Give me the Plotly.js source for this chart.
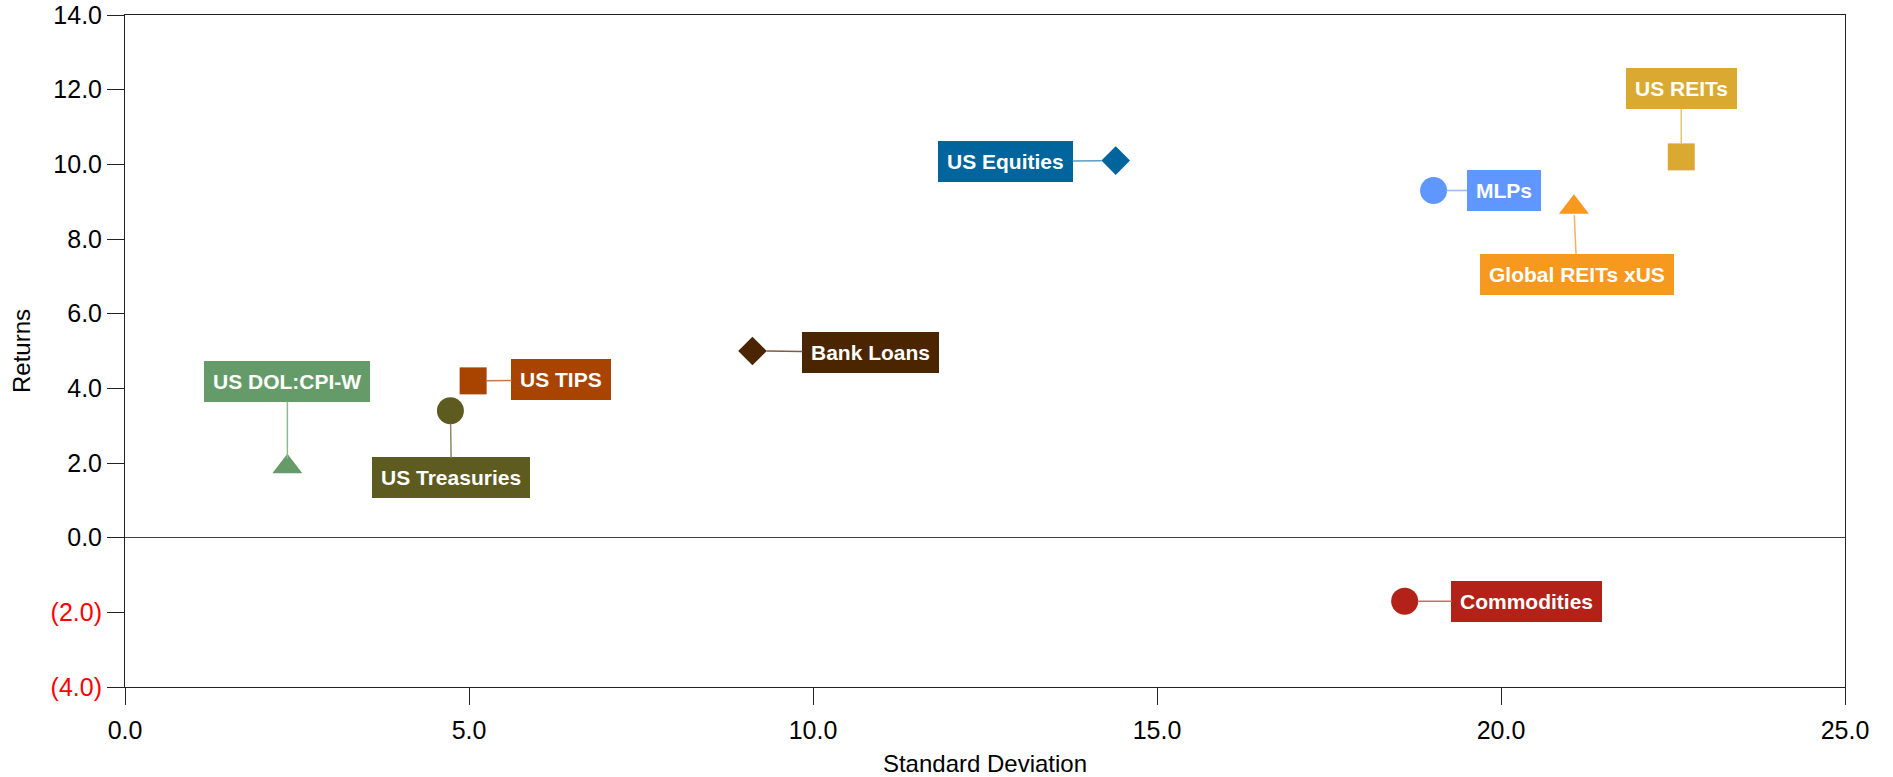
<!DOCTYPE html>
<html>
<head>
<meta charset="utf-8">
<script src="https://cdn.plot.ly/plotly-3.0.1.min.js"></script>
<style>
  html, body { margin: 0; padding: 0; background: #ffffff; }
  #chart { width: 1893px; height: 777px; }
</style>
</head>
<body>
<div id="chart"></div>
<script>
// ---- Data ----
const categories = ['US DOL:CPI-W', 'US Treasuries', 'US TIPS', 'Bank Loans', 'US Equities', 'MLPs', 'Global REITs xUS', 'US REITs', 'Commodities'];
const stdDev     = [2.36, 4.73, 5.06, 9.12, 14.40, 19.02, 21.06, 22.62, 18.60];
const returns    = [1.9, 3.4, 4.2, 5.0, 10.1, 9.3, 8.85, 10.2, -1.7];
const xTickVals  = [0, 5, 10, 15, 20, 25];
const xTickText  = ['0.0', '5.0', '10.0', '15.0', '20.0', '25.0'];
const yTickVals  = [14, 12, 10, 8, 6, 4, 2, 0, -2, -4];
const yTickText  = ['14.0', '12.0', '10.0', '8.0', '6.0', '4.0', '2.0', '0.0', '(2.0)', '(4.0)'];

// ---- Styles ----
const colors     = ['#659B68', '#5E5B20', '#A84400', '#4A2500', '#00659C', '#5F97FF', '#F7991F', '#DAAA30', '#B22218'];
const lineColors = ['#8FBA91', '#8C8A5E', '#C8784A', '#7E5E44', '#5A9DC6', '#94B9FF', '#F5B061', '#E6C56E', '#D26B63'];
const symbols    = ['triangle-up', 'circle', 'square', 'diamond', 'diamond', 'circle', 'triangle-up', 'square', 'circle'];
const sizes      = [26, 27, 27, 22, 22, 27, 26, 27, 27];
const labelOffsets = [[0, -85], [1, 67], [88, -1], [118, 1], [-110, 1], [70, 0], [3, 67], [0, -68], [122, 0]];
const standoffs  = [8, 13, 13, 14, 14, 13, 8, 13, 13];

const FONT = 'Liberation Sans, Arial, Helvetica, sans-serif';

const trace = {
  type: 'scatter',
  mode: 'markers',
  x: stdDev,
  y: returns,
  text: categories,
  hoverinfo: 'text+x+y',
  marker: { color: colors, symbol: symbols, size: sizes, opacity: 1, line: { width: 0 } },
  showlegend: false
};

const annotations = categories.map((name, i) => ({
  x: stdDev[i],
  y: returns[i],
  xref: 'x', yref: 'y',
  text: '<b>' + name + '</b>',
  showarrow: true,
  arrowhead: 0,
  arrowwidth: 1.5,
  arrowcolor: lineColors[i],
  standoff: standoffs[i],
  ax: labelOffsets[i][0],
  ay: labelOffsets[i][1],
  bgcolor: colors[i],
  bordercolor: colors[i],
  borderwidth: 1,
  borderpad: 8,
  font: { family: FONT, size: 21, color: '#ffffff' }
}));

const layout = {
  width: 1893,
  height: 777,
  margin: { l: 125, r: 48, t: 15, b: 90 },
  paper_bgcolor: '#ffffff',
  plot_bgcolor: '#ffffff',
  font: { family: FONT, color: '#000000' },
  xaxis: {
    range: [0, 25],
    tickvals: xTickVals,
    ticktext: xTickText,
    showgrid: false,
    zeroline: false,
    showline: true,
    mirror: true,
    linecolor: '#222222',
    linewidth: 1,
    ticks: 'outside',
    ticklen: 17,
    tickcolor: '#222222',
    ticklabelstandoff: 4,
    tickfont: { family: FONT, size: 25, color: '#000000' },
    title: { text: 'Standard Deviation', font: { family: FONT, size: 24, color: '#000000' }, standoff: 17 }
  },
  yaxis: {
    range: [-4, 14],
    tickvals: yTickVals,
    ticktext: yTickText.map(t => t.startsWith('(') ? '<span style="color:#FF0000">' + t + '</span>' : t),
    showgrid: false,
    zeroline: true,
    zerolinecolor: '#444444',
    zerolinewidth: 1,
    showline: true,
    mirror: true,
    linecolor: '#222222',
    linewidth: 1,
    ticks: 'outside',
    ticklen: 17,
    tickcolor: '#222222',
    tickfont: { family: FONT, size: 25, color: '#000000' },
    title: { text: 'Returns', font: { family: FONT, size: 24, color: '#000000' }, standoff: 13 }
  },
  annotations: annotations
};

Plotly.newPlot('chart', [trace], layout, { displayModeBar: false });
</script>
</body>
</html>
